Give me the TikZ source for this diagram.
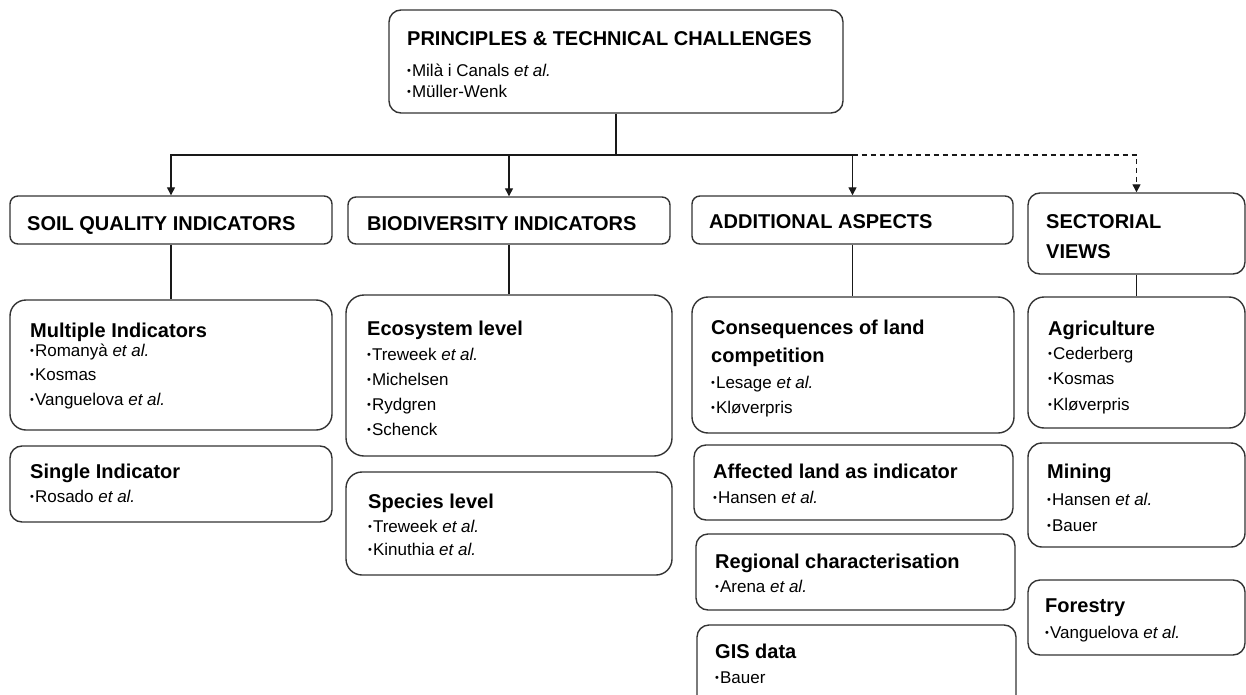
\documentclass[tikz,border=0pt]{standalone}
\usepackage{fontspec}
\setmainfont{Liberation Sans}
\usetikzlibrary{arrows.meta,fit}
% bold heading line with a fixed top so every box text starts at a known height
\newcommand\ttl[1]{{\fontsize{20}{20}\selectfont\bfseries\rule{0pt}{15pt}#1}}
\newcommand\bu{\raisebox{2pt}{\fontsize{11}{11}\selectfont\textbullet}\hspace{1pt}}
\newcommand\etal{\textit{et al.}}
\begin{document}
\begin{tikzpicture}[x=1pt,y=-1pt,
  box/.style={draw=black!80, line width=1.4pt, rounded corners=#1, inner sep=0pt},
  box/.default=10pt,
  txt/.style={anchor=north west, inner sep=0pt, align=left, font=\fontsize{17}{20}\selectfont},
  conn/.style={draw=black!90, line width=1.3pt},
  tip/.style={-{Triangle[length=8pt,width=8pt]}},
  dsh/.style={dash pattern=on 5pt off 4pt}
]
\useasboundingbox (0,0) rectangle (1246,695);
\clip (0,0) rectangle (1246,695);

% root
\node[box=12pt, fit={(389,10)(843,113)}] (top) {};
\node[txt] (top-t) at (407,30) {\ttl{PRINCIPLES \& TECHNICAL CHALLENGES}\\[11pt]\bu Milà i Canals \etal\\[1pt]\bu Müller-Wenk};

% category headers
\node[box=8pt, fit={(10,196)(332,244)}] (soil) {};
\node[txt] (soil-t) at (27,215) {\ttl{SOIL QUALITY INDICATORS}};
\node[box=8pt, fit={(348,197)(670,244)}] (bio) {};
\node[txt] (bio-t) at (367,215) {\ttl{BIODIVERSITY INDICATORS}};
\node[box=8pt, fit={(692,196)(1013,244)}] (add) {};
\node[txt] (add-t) at (709,213) {\ttl{ADDITIONAL ASPECTS}};
\node[box=12pt, fit={(1028,193)(1245,274)}] (sect) {};
\node[txt] (sect-t) at (1046,213) {\ttl{SECTORIAL}\\[10pt]\ttl{VIEWS}};

% soil quality column
\node[box=16pt, fit={(10,300)(332,430)}] (multi) {};
\node[txt] (multi-t) at (30,322) {\ttl{Multiple Indicators}\\[-1pt]\bu Romanyà \etal\\[4pt]\bu Kosmas\\[5pt]\bu Vanguelova \etal};
\node[box=12pt, fit={(10,446)(332,522)}] (single) {};
\node[txt] (single-t) at (30,463) {\ttl{Single Indicator}\\[4pt]\bu Rosado \etal};

% biodiversity column
\node[box=18pt, fit={(346,295)(672,456)}] (eco) {};
\node[txt] (eco-t) at (367,320) {\ttl{Ecosystem level}\\[5pt]\bu Treweek \etal\\[5pt]\bu Michelsen\\[5pt]\bu Rydgren\\[5pt]\bu Schenck};
\node[box=16pt, fit={(346,472)(672,575)}] (species) {};
\node[txt] (species-t) at (368,493) {\ttl{Species level}\\[4pt]\bu Treweek \etal\\[3pt]\bu Kinuthia \etal};

% additional aspects column
\node[box=16pt, fit={(692,297)(1014,433)}] (cons) {};
\node[txt] (cons-t) at (711,319) {\ttl{Consequences of land}\\[8pt]\ttl{competition}\\[6pt]\bu Lesage \etal\\[5pt]\bu Kløverpris};
\node[box=12pt, fit={(694,445)(1013,520)}] (affected) {};
\node[txt] (affected-t) at (713,463) {\ttl{Affected land as indicator}\\[5pt]\bu Hansen \etal};
\node[box=12pt, fit={(696,534)(1015,610)}] (regional) {};
\node[txt] (regional-t) at (715,553) {\ttl{Regional characterisation}\\[4pt]\bu Arena \etal};
\node[box=12pt, fit={(697,625)(1016,715)}] (gis) {};
\node[txt] (gis-t) at (715,643) {\ttl{GIS data}\\[5pt]\bu Bauer};

% sectorial column
\node[box=16pt, fit={(1028,297)(1245,428)}] (agri) {};
\node[txt] (agri-t) at (1048,320) {\ttl{Agriculture}\\[4pt]\bu Cederberg\\[5pt]\bu Kosmas\\[6pt]\bu Kløverpris};
\node[box=14pt, fit={(1028,443)(1245,547)}] (mining) {};
\node[txt] (mining-t) at (1047,463) {\ttl{Mining}\\[7pt]\bu Hansen \etal\\[6pt]\bu Bauer};
\node[box=12pt, fit={(1028,580)(1245,655)}] (forestry) {};
\node[txt] (forestry-t) at (1045,597) {\ttl{Forestry}\\[6pt]\bu Vanguelova \etal};

% connectors
\coordinate (bus) at (616,155);
\coordinate (busr) at (add.north |- bus);
\draw[conn] (top.south) -- (bus);
\draw[conn, tip] (bus) -| (soil.north);
\draw[conn, tip] (bus) -| (bio.north);
\draw[conn, tip] (bus) -| (add.north);
\draw[conn, dsh, tip] (busr) -| (sect.north);

\draw[conn] (soil.south) -- (multi.north);
\draw[conn] (bio.south) -- (eco.north);
\draw[conn] (add.south) -- (add.south |- cons.north);
\draw[conn] (sect.south) -- (agri.north);
\end{tikzpicture}
\end{document}
